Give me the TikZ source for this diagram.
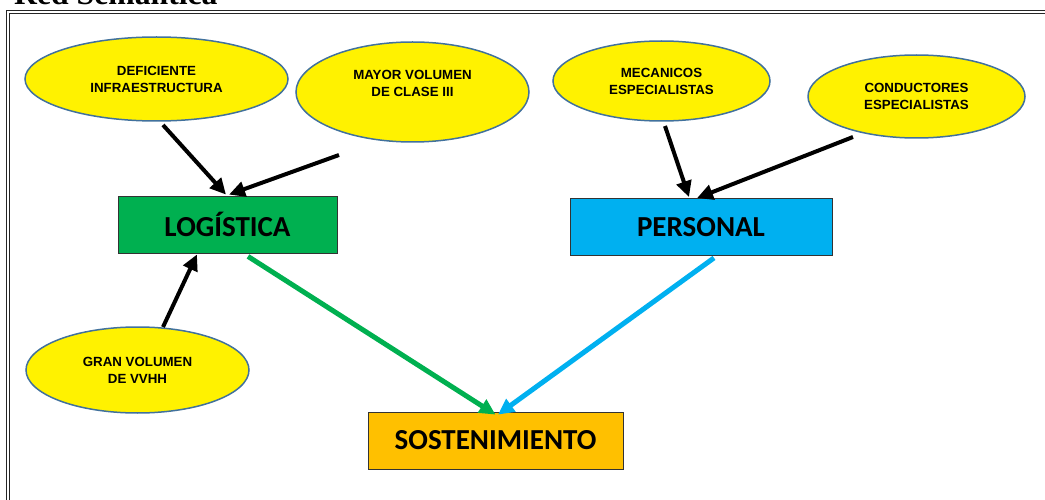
\documentclass[tikz,border=0pt]{standalone}
\usepackage{fontspec}
\setmainfont{Liberation Sans}
\newfontfamily\boxfont{Carlito}
\newfontfamily\titlefont{Liberation Serif}
\usetikzlibrary{shapes.geometric,arrows.meta}
\definecolor{ovalline}{HTML}{41719C}
\definecolor{logisgreen}{HTML}{00B050}
\definecolor{personblue}{HTML}{00B0F0}
\definecolor{sostorange}{HTML}{FFC000}

\begin{document}
\begin{tikzpicture}[
		x=1pt,y=-1pt,
		>={Triangle[length=16pt,width=15pt]},
		idea/.style={
			ellipse,
			draw=ovalline,
			fill=yellow,
			line width=1.5pt,
			inner sep=0pt,
			align=center,
			font=\bfseries\fontsize{13.3}{17}\selectfont,
		},
		topic/.style={
			draw=black!80,
			line width=.8pt,
			minimum height=57pt,
			font=\boxfont\bfseries\fontsize{29}{34}\selectfont,
		},
		link/.style={->,line width=4pt},
		flow/.style={->,line width=5pt},
	]
	\useasboundingbox (0,0) rectangle (1045,500);
	% frame and title
	\draw[line width=1pt,black!85] (6.5,11) rectangle (1080,540);
	\draw[line width=1pt,black!85] (9.5,14) rectangle (1077,537);
	\node[anchor=base west,inner sep=0pt,font=\titlefont\bfseries\fontsize{31.7}{36}\selectfont] (title) at (14,5) {Red Semántica};
	% the three boxes
	\node[topic,fill=logisgreen,minimum width=219pt] (logistica) at (227.5,224.5) {LOGÍSTICA};
	\node[topic,fill=personblue,minimum width=262pt] (personal) at (701,227) {PERSONAL};
	\node[topic,fill=sostorange,minimum width=255pt] (sostenimiento) at (495.5,440.5) {SOSTENIMIENTO};
	% left side of the picture
	\node[idea,minimum width=263pt,minimum height=84pt] (deficiente) at (156.5,79) {DEFICIENTE\\INFRAESTRUCTURA};
	\node[idea,minimum width=233pt,minimum height=100pt] (volclase) at (412.5,92) {MAYOR VOLUMEN\\DE CLASE III\\\mbox{}};
	\node[idea,minimum width=223pt,minimum height=86pt] (granvol) at (137.5,370) {GRAN VOLUMEN\\DE VVHH};
	% right side of the picture
	\node[idea,minimum width=217pt,minimum height=80pt] (mecanicos) at (661.5,81) {MECANICOS\\ESPECIALISTAS};
	\node[idea,minimum width=217pt,minimum height=83pt] (conductores) at (916.5,96.5) {CONDUCTORES\\ESPECIALISTAS};
	% loose ends of the arrows
	\coordinate (deficientetail) at (163,125);
	\coordinate (volclasetail) at (339,155);
	\coordinate (granvoltail) at (163,327);
	\coordinate (mecanicostail) at (665,126);
	\coordinate (conductorestail) at (853,137);
	% draw the connection lines
	\draw[link] (deficientetail) -- ([xshift=-1.5pt,yshift=1pt]logistica.north);
	\draw[link] (volclasetail) -- ([xshift=1.5pt,yshift=1pt]logistica.north);
	\draw[link] (granvoltail) -- ([xshift=-30.5pt,yshift=-1pt]logistica.south);
	\draw[link] (mecanicostail) -- ([xshift=-12pt,yshift=1pt]personal.north);
	\draw[link] (conductorestail) -- ([xshift=-4pt]personal.north);
	\draw[flow,logisgreen] ([xshift=20.5pt,yshift=-3pt]logistica.south) -- ([yshift=-3pt]sostenimiento.north);
	\draw[flow,personblue] ([xshift=13pt,yshift=-2pt]personal.south) -- ([xshift=2.5pt,yshift=-3pt]sostenimiento.north);
\end{tikzpicture}
\end{document}
